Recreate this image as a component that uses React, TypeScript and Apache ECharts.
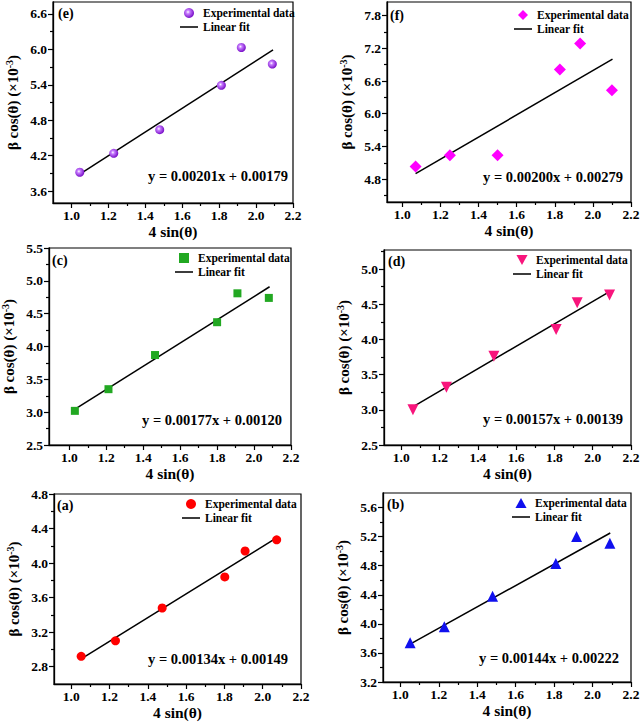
import React, { useEffect, useRef } from "react";
import * as echarts from "echarts";

const SERIF = '"Liberation Serif","Times New Roman",Times,serif';

// shared x ticks
const xTickLabels = [1.0, 1.2, 1.4, 1.6, 1.8, 2.0, 2.2];
const xMinorTicks = [1.1, 1.3, 1.5, 1.7, 1.9, 2.1];

// (e)
const eX = [1.045, 1.229, 1.478, 1.812, 1.92, 2.088];
const eY = [3.92, 4.24, 4.64, 5.39, 6.03, 5.75];
const eFitX = [1.045, 2.092];
const eFitY = [3.89, 5.99];
const eYTicks = [3.6, 4.2, 4.8, 5.4, 6.0, 6.6];
const eYMinor = [3.9, 4.5, 5.1, 5.7, 6.3];
const eEq = "y = 0.00201x + 0.00179";

// (f)
const fX = [1.07, 1.25, 1.5, 1.827, 1.933, 2.1];
const fY = [5.03, 5.24, 5.24, 6.81, 7.29, 6.43];
const fFitX = [1.07, 2.103];
const fFitY = [4.9, 7.0];
const fYTicks = [4.8, 5.4, 6.0, 6.6, 7.2, 7.8];
const fYMinor = [4.5, 5.1, 5.7, 6.3, 6.9, 7.5];
const fEq = "y = 0.00200x + 0.00279";

// (c)
const cX = [1.03, 1.212, 1.464, 1.8, 1.91, 2.08];
const cY = [3.02, 3.35, 3.87, 4.37, 4.81, 4.74];
const cFitX = [1.033, 2.084];
const cFitY = [3.05, 4.91];
const cYTicks = [2.5, 3.0, 3.5, 4.0, 4.5, 5.0, 5.5];
const cYMinor = [2.75, 3.25, 3.75, 4.25, 4.75, 5.25];
const cEq = "y = 0.00177x + 0.00120";

// (d)
const dX = [1.061, 1.236, 1.484, 1.809, 1.919, 2.088];
const dY = [3.0, 3.32, 3.76, 4.14, 4.52, 4.63];
const dFitX = [1.065, 2.088];
const dFitY = [3.05, 4.68];
const dYTicks = [2.5, 3.0, 3.5, 4.0, 4.5, 5.0];
const dYMinor = [2.75, 3.25, 3.75, 4.25, 4.75, 5.25];
const dEq = "y = 0.00157x + 0.00139";

// (a)
const aX = [1.052, 1.231, 1.475, 1.802, 1.908, 2.073];
const aY = [2.92, 3.1, 3.48, 3.84, 4.14, 4.27];
const aFitX = [1.052, 2.07];
const aFitY = [2.89, 4.29];
const aYTicks = [2.8, 3.2, 3.6, 4.0, 4.4, 4.8];
const aYMinor = [3.0, 3.4, 3.8, 4.2, 4.6];
const aEq = "y = 0.00134x + 0.00149";

// (b)
const bX = [1.051, 1.229, 1.48, 1.809, 1.917, 2.09];
const bY = [3.74, 3.96, 4.38, 4.83, 5.2, 5.11];
const bFitX = [1.051, 2.092];
const bFitY = [3.72, 5.25];
const bYTicks = [3.2, 3.6, 4.0, 4.4, 4.8, 5.2, 5.6];
const bYMinor = [3.4, 3.8, 4.2, 4.6, 5.0, 5.4];
const bEq = "y = 0.00144x + 0.00222";

const zip = (xs: number[], ys: number[]) => xs.map((x, i) => [x, ys[i]]);

const purpleBall = {
  type: "radial",
  x: 0.4,
  y: 0.4,
  r: 0.6,
  colorStops: [
    { offset: 0, color: "#ffffff" },
    { offset: 0.3, color: "#c77dff" },
    { offset: 1, color: "#7a10c8" },
  ],
};

const ICON_SQUARE = "path://M0,0L10,0L10,10L0,10Z";
const ICON_DIAMOND = "path://M5,0L10,5L5,10L0,5Z";
const ICON_TRI_UP = "path://M5,0L10,9L0,9Z";
const ICON_TRI_DOWN = "path://M0,0L10,0L5,9Z";
const ICON_LINE = "path://M0,0L20,0L20,1.7L0,1.7Z";

const panels = [
  {
    id: "e", label: "(e)", xs: eX, ys: eY, fx: eFitX, fy: eFitY, yTicks: eYTicks, yMinor: eYMinor, eq: eEq,
    xMin: 0.9, yMin: 3.4, yMax: 6.8,
    grid: { left: 53, top: 2, width: 240, height: 201 },
    symbol: "circle", icon: "circle", size: 9, rotate: 0, color: purpleBall as any,
    legend: { left: 180, top: 6 }, eqPos: [218, 176], labelPos: [58, 13],
  },
  {
    id: "f", label: "(f)", xs: fX, ys: fY, fx: fFitX, fy: fFitY, yTicks: fYTicks, yMinor: fYMinor, eq: fEq,
    xMin: 0.92, yMin: 4.38, yMax: 8.05,
    grid: { left: 387, top: 2, width: 244, height: 200 },
    symbol: "diamond", icon: ICON_DIAMOND, size: 12, rotate: 0, color: "#ff00ff",
    legend: { left: 514, top: 8 }, eqPos: [553, 177], labelPos: [390, 15],
  },
  {
    id: "c", label: "(c)", xs: cX, ys: cY, fx: cFitX, fy: cFitY, yTicks: cYTicks, yMinor: cYMinor, eq: cEq,
    xMin: 0.89, yMin: 2.5, yMax: 5.5,
    grid: { left: 49, top: 248, width: 242, height: 197 },
    symbol: "rect", icon: ICON_SQUARE, size: 8, rotate: 0, color: "#22a822",
    legend: { left: 175, top: 251 }, eqPos: [212, 420], labelPos: [52, 260],
  },
  {
    id: "d", label: "(d)", xs: dX, ys: dY, fx: dFitX, fy: dFitY, yTicks: dYTicks, yMinor: dYMinor, eq: dEq,
    xMin: 0.91, yMin: 2.5, yMax: 5.27,
    grid: { left: 384, top: 250, width: 247, height: 195 },
    symbol: "triangle", icon: ICON_TRI_DOWN, size: 11, rotate: 180, color: "#f8157c",
    legend: { left: 513, top: 253 }, eqPos: [553, 419], labelPos: [388, 261],
  },
  {
    id: "a", label: "(a)", xs: aX, ys: aY, fx: aFitX, fy: aFitY, yTicks: aYTicks, yMinor: aYMinor, eq: aEq,
    xMin: 0.91, yMin: 2.6, yMax: 4.8,
    grid: { left: 54, top: 494, width: 247, height: 190 },
    symbol: "circle", icon: "circle", size: 9, rotate: 0, color: "#ff0000",
    legend: { left: 182, top: 497 }, eqPos: [218, 659], labelPos: [57, 505],
  },
  {
    id: "b", label: "(b)", xs: bX, ys: bY, fx: bFitX, fy: bFitY, yTicks: bYTicks, yMinor: bYMinor, eq: bEq,
    xMin: 0.91, yMin: 3.2, yMax: 5.8,
    grid: { left: 383, top: 493, width: 248, height: 189 },
    symbol: "triangle", icon: ICON_TRI_UP, size: 11, rotate: 0, color: "#1010ee",
    legend: { left: 512, top: 496 }, eqPos: [549, 658], labelPos: [387, 504],
  },
];

const axisLine = { show: true, onZero: false, lineStyle: { color: "#000", width: 1.3 } };
const tickStyle = { color: "#000", width: 1.2 };
const labelStyle = { fontFamily: SERIF, fontWeight: "bold" as const, fontSize: 13.5, color: "#000" };

function buildOption() {
  const grid: any[] = [];
  const xAxis: any[] = [];
  const yAxis: any[] = [];
  const series: any[] = [];
  const legend: any[] = [];
  const graphic: any[] = [];

  panels.forEach((p, i) => {
    grid.push({
      ...p.grid,
      show: true,
      borderColor: "#000",
      borderWidth: 1.2,
      backgroundColor: "transparent",
      containLabel: false,
      outerBoundsMode: "none",
    });
    xAxis.push({
      type: "value", gridIndex: i, min: p.xMin, max: 2.2, position: "bottom",
      axisLine, splitLine: { show: false },
      axisTick: { show: true, inside: false, length: 5, lineStyle: tickStyle, customValues: xTickLabels },
      axisLabel: { ...labelStyle, margin: 5, customValues: xTickLabels, formatter: (v: number) => v.toFixed(1) },
      name: "4 sin(θ)", nameLocation: "middle", nameGap: 20,
      nameTextStyle: { fontFamily: SERIF, fontWeight: "bold", fontSize: 15.5, color: "#000" },
    });
    xAxis.push({
      type: "value", gridIndex: i, min: p.xMin, max: 2.2, position: "bottom",
      axisLine: { show: false }, splitLine: { show: false }, axisLabel: { show: false },
      axisTick: { show: true, inside: false, length: 3, lineStyle: tickStyle, customValues: xMinorTicks },
    });
    yAxis.push({
      type: "value", gridIndex: i, min: p.yMin, max: p.yMax, position: "left",
      axisLine, splitLine: { show: false },
      axisTick: { show: true, inside: false, length: 5, lineStyle: tickStyle, customValues: p.yTicks },
      axisLabel: { ...labelStyle, margin: 6, customValues: p.yTicks, formatter: (v: number) => v.toFixed(1) },
      name: "{t|β cos(θ) (×10}{s|-3}{t|)}", nameLocation: "middle", nameGap: 31,
      nameTextStyle: {
        rich: {
          t: { fontFamily: SERIF, fontWeight: "bold", fontSize: 15, color: "#000", lineHeight: 18 },
          s: { fontFamily: SERIF, fontWeight: "bold", fontSize: 10, color: "#000", lineHeight: 10, verticalAlign: "top" },
        },
      },
    });
    yAxis.push({
      type: "value", gridIndex: i, min: p.yMin, max: p.yMax, position: "left",
      axisLine: { show: false }, splitLine: { show: false }, axisLabel: { show: false },
      axisTick: { show: true, inside: false, length: 3, lineStyle: tickStyle, customValues: p.yMinor },
    });

    const expName = `Experimental data|${p.id}`;
    const fitName = `Linear fit|${p.id}`;
    series.push({
      type: "line", name: fitName, xAxisIndex: 2 * i, yAxisIndex: 2 * i,
      data: zip(p.fx, p.fy), symbol: "none", showSymbol: false,
      lineStyle: { color: "#000", width: 1.5 }, itemStyle: { color: "#000" }, z: 2,
    });
    series.push({
      type: "scatter", name: expName, xAxisIndex: 2 * i, yAxisIndex: 2 * i,
      data: zip(p.xs, p.ys), symbol: p.symbol, symbolSize: p.size, symbolRotate: p.rotate,
      itemStyle: { color: p.color, opacity: 1 }, z: 3,
    });
    legend.push({
      orient: "vertical", left: p.legend.left, top: p.legend.top, padding: 0,
      itemWidth: 18, itemHeight: 10, itemGap: 0, selectedMode: false,
      symbolRotate: 0, symbolKeepAspect: true,
      data: [
        { name: expName, icon: p.icon },
        { name: fitName, icon: ICON_LINE },
      ],
      formatter: (n: string) => n.split("|")[0],
      textStyle: { fontFamily: SERIF, fontWeight: "bold", fontSize: 11.5, color: "#000", lineHeight: 14 },
    });
    graphic.push({
      type: "text", x: p.eqPos[0], y: p.eqPos[1],
      style: { text: p.eq, fontFamily: SERIF, fontWeight: "bold", fontSize: 14.5, fill: "#000", align: "center", verticalAlign: "middle" },
    });
    graphic.push({
      type: "text", x: p.labelPos[0], y: p.labelPos[1],
      style: { text: p.label, fontFamily: SERIF, fontWeight: "bold", fontSize: 14, fill: "#000", align: "left", verticalAlign: "middle" },
    });
  });

  return { animation: false, backgroundColor: "#fff", grid, xAxis, yAxis, series, legend, graphic };
}

export default function App() {
  const ref = useRef<HTMLDivElement>(null);
  useEffect(() => {
    if (!ref.current) return;
    const chart = echarts.init(ref.current, undefined, { renderer: "svg" });
    chart.setOption(buildOption() as any);
    return () => chart.dispose();
  }, []);
  return (
    <div
      ref={ref}
      style={{ position: "absolute", left: 0, top: 0, width: 640, height: 725, background: "#fff" }}
    />
  );
}
